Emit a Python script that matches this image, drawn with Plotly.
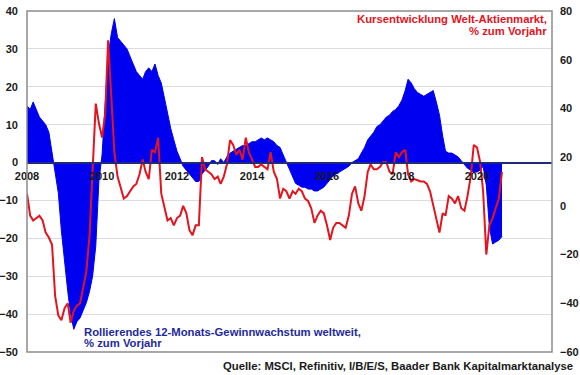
import pandas as pd
import plotly.graph_objects as go

# Monthly observations, Jan 2008 .. Sep 2020
start_month = "2008-01-01"
n_months = 153

earnings_growth = [
    15, 14, 16, 14, 12, 11, 10, 8, 3, -2, -8, -18,
    -27, -34, -40, -44, -42, -41, -39, -37, -34, -30, -22, -5,
    2, 15, 28, 34, 38, 33, 32, 31, 30, 28, 26, 24,
    23, 22, 24, 25, 24, 26, 23, 21, 17, 13, 9, 6,
    3, 1, -1, -2, -3, -4, -5, -5, -3, -2, -1, 0.5,
    0.5, -0.5, 1, 0, 1.5, 2.5, 3, 3.5, 4, 4.5, 4.5, 5,
    5.5, 5.5, 6, 6.5, 6, 6.5, 6, 5.5, 4.5, 4, 2, 0,
    -2, -4, -5.5, -6, -6.5, -6.5, -7, -7, -7.5, -7.5, -7, -6.5,
    -5.5, -4.5, -3.5, -3, -2.5, -2, -1.5, -1, 0, 0.5, 1, 2.5,
    4, 6, 7, 8, 9.5, 10, 11, 12, 12.5, 13.5, 14, 15,
    16.5, 19, 22, 21, 19.5, 18.5, 18, 17.5, 18, 18.5, 19, 16,
    12.5, 7, 3, 2.5, 2.5, 2, 1.5, 0.5, -0.5, -1.5, -2, -2.5,
    -2.5, -2, -1, -6, -17, -21.5, -21, -20.5, -19.5,
]

stock_market = [
    5, -4, -6, -5, -4, -6, -11, -13, -16, -37, -45, -47,
    -42, -40, -48, -43, -41, -40, -34, -27, -12, 12, 42, 34,
    28, 38, 68, 45, 22, 12, 8, 3, 4, 6, 8, 9,
    13, 19, 14, 11, 23, 22, 28, 5, -1, -6, -5, -8,
    -5, -4, 0, -3, -10, -12, -8, -8, 20, 15, 14, 13,
    11, 12, 9, 12, 17, 27, 25, 21, 23, 19, 28, 22,
    19, 16, 16, 17, 16, 15, 22, 14, 11, 3, 7, 6,
    3, 6, 5, 7, 6, 3, 2, -1, -7, -4, -2, -3,
    -8, -14, -9, -7, -7, -8, -9, -4, 5, 8, 1, -2,
    4, 14, 17, 15, 15, 16, 18, 18, 14, 13, 22, 20,
    22, 23, 13, 10, 11, 10.5, 10, 10, 9, 6, 0, -5,
    -11, -3, -4, 4, 3, 1, 4, -1, -2, 4, 12, 25,
    24, 18, 6, -20, -8, -5, -1, 3, 14,
]

year_ticks = ["2008", "2010", "2012", "2014", "2016", "2018", "2020"]
left_ticks = [40, 30, 20, 10, 0, -10, -20, -30, -40, -50]
right_ticks = [80, 60, 40, 20, 0, -20, -40, -60]

label_earnings = ["Rollierendes 12-Monats-Gewinnwachstum weltweit,", "% zum Vorjahr"]
label_market = ["Kursentwicklung Welt-Aktienmarkt,", "% zum Vorjahr"]
source_text = "Quelle: MSCI, Refinitiv, I/B/E/S, Baader Bank Kapitalmarktanalyse"

dates = pd.date_range(start_month, periods=n_months, freq="MS")

FONT = "Arial, Liberation Sans, sans-serif"
BLUE = "#0000F0"
RED = "#E3141E"
NAVY = "#1F2A78"
TXT_BLUE = "#1E2A9C"

fig = go.Figure()
fig.add_trace(go.Scatter(
    x=dates, y=earnings_growth, mode="lines",
    line=dict(color=BLUE, width=1), fill="tozeroy", fillcolor=BLUE,
    hoverinfo="skip", showlegend=False,
))
fig.add_trace(go.Scatter(
    x=dates, y=stock_market, mode="lines", yaxis="y2",
    line=dict(color=RED, width=2), hoverinfo="skip", showlegend=False,
))

tick_font = dict(family=FONT, size=11, color="#1a1a1a", weight="bold")

fig.update_layout(
    template="none",
    width=580, height=375,
    margin=dict(l=27, r=28, t=11, b=23, autoexpand=False),
    paper_bgcolor="white", plot_bgcolor="white",
    xaxis=dict(
        type="date", range=["2008-01-01", "2022-01-01"],
        tickvals=[f"{y}-01-01" for y in year_ticks], ticktext=year_ticks,
        tickfont=tick_font, showgrid=False, zeroline=False,
        anchor="free", position=(50 / 90), showline=True,
        linecolor=NAVY, linewidth=2, ticks="", ticklabelstandoff=3,
        layer="above traces", automargin=False,
    ),
    yaxis=dict(
        range=[-50, 40], tickvals=left_ticks, tickfont=tick_font,
        showgrid=True, gridcolor="#DCDCDC", gridwidth=1, zeroline=False,
        showline=False, ticks="", ticklabelstandoff=8, automargin=False,
    ),
    yaxis2=dict(
        range=[-60, 80], tickvals=right_ticks, tickfont=tick_font,
        overlaying="y", side="right", showgrid=False, zeroline=False,
        showline=False, ticks="", ticklabelstandoff=7, automargin=False,
    ),
    shapes=[dict(
        type="rect", xref="paper", yref="paper", x0=0, x1=1, y0=0, y1=1,
        line=dict(color="#8C8C8C", width=1.5), layer="above",
    )],
)

ann_font = dict(family=FONT, size=11.3, weight="bold")
# red label (top right)
for i, txt in enumerate(label_market):
    fig.add_annotation(
        text=txt, xref="paper", yref="paper", x=0.994, y=0.9765 - i * 0.0352,
        xanchor="right", yanchor="middle", showarrow=False,
        font=dict(color=RED, **ann_font),
    )
# blue label (bottom left)
for i, txt in enumerate(label_earnings):
    fig.add_annotation(
        text=txt, xref="paper", yref="paper", x=0.1048, y=0.0587 - i * 0.0323,
        xanchor="left", yanchor="middle", showarrow=False,
        font=dict(color=TXT_BLUE, **ann_font),
    )
fig.add_annotation(
    text=source_text, xref="paper", yref="paper", x=(575 - 27) / 525, y=-0.041,
    xanchor="right", yanchor="middle", showarrow=False,
    font=dict(color="#1a1a1a", **ann_font),
)

fig.write_html(
    "out.html",
    config={"displayModeBar": False},
    post_script="document.body.style.margin='0';document.body.style.overflow='hidden';",
)
